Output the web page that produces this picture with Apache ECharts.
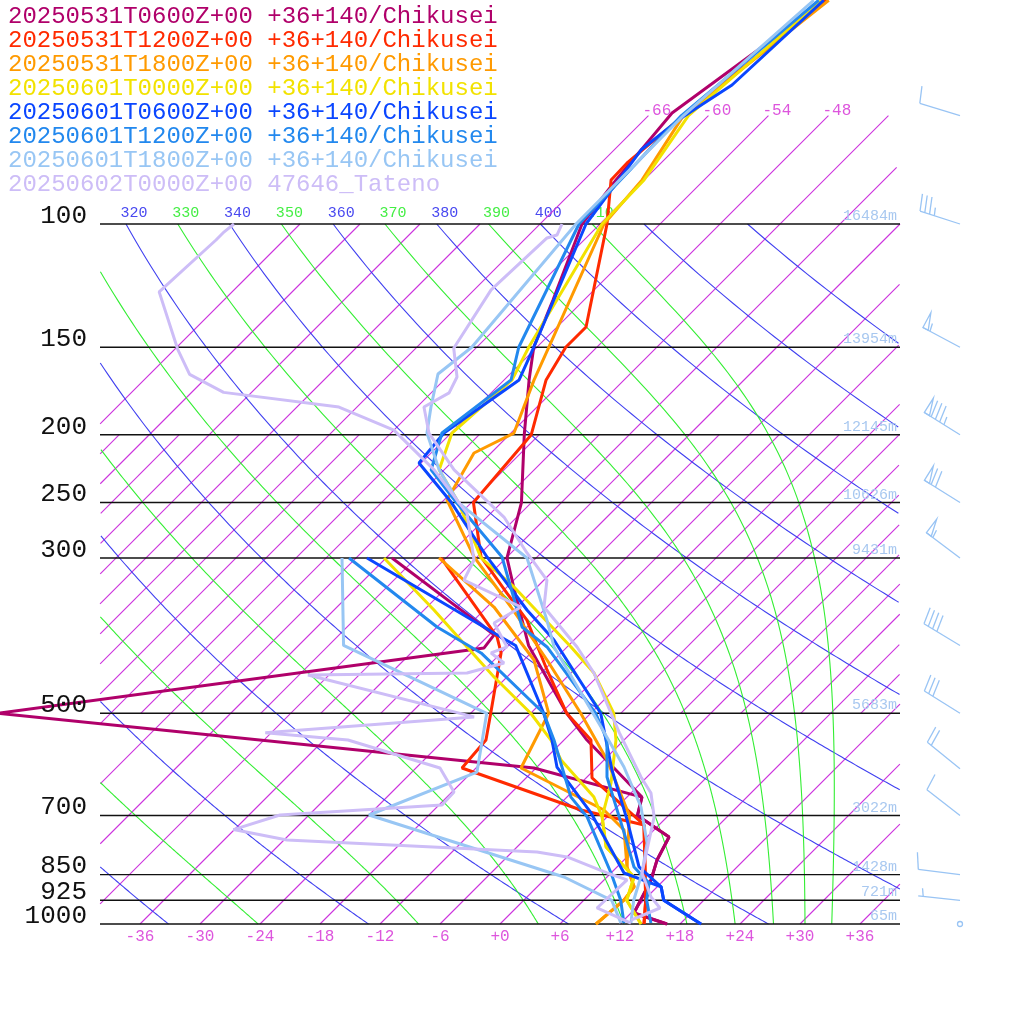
<!DOCTYPE html>
<html><head><meta charset="utf-8">
<script src="https://cdn.jsdelivr.net/npm/echarts@6/dist/echarts.min.js"></script>
<style>html,body{margin:0;padding:0;background:#fff}#c{width:1024px;height:1024px}</style>
</head><body><div id="c"></div>
<script>
// ---------- data: [pressure hPa, temperature °C] ----------
const legendLabels = [
 "20250531T0600Z+00 +36+140/Chikusei","20250531T1200Z+00 +36+140/Chikusei",
 "20250531T1800Z+00 +36+140/Chikusei","20250601T0000Z+00 +36+140/Chikusei",
 "20250601T0600Z+00 +36+140/Chikusei","20250601T1200Z+00 +36+140/Chikusei",
 "20250601T1800Z+00 +36+140/Chikusei","20250602T0000Z+00 47646_Tateno"];
const seriesColors = ['#b0006a','#ff2a00','#ff9a00','#f2e200','#0a46ff','#2288ee','#98c6f4','#cdbdf7'];

const s1T=[[47.9,-59.8],[69.4,-63.9],[86.5,-62.8],[100,-61.8],[128.4,-57.1],[150,-54.3],[167,-51.5],[200,-46.5],[250,-40.0],[300,-35.9],[333,-32.0],[400,-25.0],[500,-14.4],[546,-9.7],[658.7,1.5],[700,2.9],[751,8.2],[810,9.3],[865,10.7],[964.5,12.3],[1000,16.7]];
const s1D=[[300,-47.4],[386.4,-29.5],[403.3,-29.2],[500,-71.2],[598.6,-12.2],[658.7,1.5],[700,2.9],[751,8.2],[810,9.3],[865,10.7],[964.5,12.3],[1000,16.7]];
const s2T=[[47.9,-59.7],[70,-62.5],[81.8,-63.4],[86.5,-63.3],[100,-59.3],[140.3,-51.1],[150,-51.1],[167,-49.8],[200,-45.8],[250,-44.8],[299,-38.6],[336.7,-32.4],[368,-27.7],[433.6,-20.7],[500,-14.4],[546,-9.3],[618.6,-5.4],[722,4.5],[925,12.2],[1000,14.4]];
const s2D=[[300,-42.5],[389,-29.0],[410,-27.0],[500,-22.0],[546,-19.8],[598.6,-19.4],[687.3,-3.3],[722,4.5],[925,12.2],[1000,14.4]];
const s3T=[[47.9,-59.5],[70,-62.5],[86.5,-60.2],[100,-59.6],[150,-52.8],[167,-51.0],[198.9,-47.7],[212.4,-49.7],[247.9,-47.7],[299,-39.3],[352.5,-30.6],[419.6,-21.7],[500,-13.0],[583,-5.7],[700,2.1],[829,7.0],[885,9.7],[925,10.0],[1000,9.6]];
const s3D=[[300,-42.7],[352.5,-32.3],[419.6,-23.0],[500,-16.2],[598.6,-13.5],[687.3,-1.0],[734,3.0],[829,7.0],[885,9.7],[925,10.0],[1000,9.6]];
const s4T=[[47.9,-60.2],[70,-62.0],[86.5,-60.0],[100,-59.8],[150,-54.8],[167,-53.2],[198.9,-53.9],[224.5,-51.5],[250,-46.3],[300,-38.5],[330,-32.3],[402,-20.6],[438,-15.7],[500,-9.7],[546,-6.8],[628.9,-3.0],[703,-0.5],[776,2.9],[856.7,8.7],[925,10.3],[1000,14.1]];
const s4D=[[300,-48.2],[356,-38.0],[402,-31.0],[443.7,-25.3],[500,-18.0],[546,-13.3],[583,-10.3],[658.7,-3.3],[703,-0.5],[776,2.9],[856.7,8.7],[925,10.3],[1000,14.1]];
const s5T=[[47.9,-60.0],[63.3,-60.7],[70.6,-62.5],[78.4,-63.3],[100,-61.4],[150,-54.3],[167,-52.5],[198.9,-54.7],[219.5,-54.2],[250,-47.0],[299,-38.0],[356,-28.7],[392.9,-23.0],[500,-11.0],[546,-7.8],[602.6,-4.2],[710,2.3],[829,8.2],[885,12.4],[925,14.0],[1000,20.1]];
const s5D=[[300,-49.9],[383.9,-29.7],[400,-26.3],[500,-16.7],[546,-13.2],[596.7,-10.0],[694,-2.0],[845.5,7.3],[885,12.4],[925,14.0],[1000,20.1]];
const s6T=[[47.9,-60.5],[70,-62.7],[100,-62.1],[150,-55.8],[167,-53.3],[198.9,-54.9],[224.5,-52.3],[250,-46.5],[299,-36.5],[376.4,-27.5],[402,-23.0],[500,-11.5],[546,-7.7],[616.6,-4.0],[741,3.3],[829,7.7],[873.7,10.8],[925,12.3],[997,15.0]];
const s6D=[[300,-51.7],[376.4,-36.0],[410,-29.0],[500,-16.7],[546,-13.0],[658.7,-5.6],[703,-2.0],[845.5,6.0],[925,9.7],[997,12.3]];
const s7T=[[47.9,-61.0],[70,-62.5],[100,-62.4],[150,-60.5],[163.8,-61.2],[182.6,-58.6],[198.9,-56.4],[224.5,-51.5],[250,-46.3],[300,-33.9],[368,-25.7],[402,-22.3],[523,-9.6],[596.7,-3.3],[680.6,2.4],[766,6.6],[845.5,9.1],[925,11.0],[997,13.0]];
const s7D=[[300,-52.4],[400,-43.5],[500,-22.4],[606.6,-17.5],[698.7,-24.0],[856.7,1.7],[925,8.8],[997,12.0]];
const s8T=[[100,-63.8],[103.7,-63.2],[104.7,-63.9],[124.2,-64.3],[150.5,-62.2],[165.4,-59.0],[174.3,-58.2],[182.6,-59.3],[198.9,-56.2],[224.5,-50.0],[262.2,-40.3],[295.1,-34.4],[322.6,-29.7],[352.5,-27.3],[402,-20.0],[438,-15.7],[533,-7.2],[616.6,-0.6],[650,2.0],[703,4.7],[845.5,9.1],[915,12.4],[948.7,14.4],[987,12.7]];
const s8D=[[100,-96.6],[102.6,-96.8],[105.4,-96.8],[125,-97.3],[151,-89.7],[164,-86.0],[174,-80.8],[182.6,-67.8],[197,-60.0],[224.5,-52.0],[258.8,-44.4],[302,-39.0],[322.6,-38.0],[352.5,-29.6],[371.5,-30.7],[402,-27.0],[410,-28.0],[423.7,-25.7],[438,-28.4],[440.9,-44.1],[506,-23.3],[533,-42.6],[546,-33.6],[598.6,-21.6],[647.7,-17.8],[676,-17.7],[698.7,-32.9],[733,-36.1],[758.6,-29.7],[789,-3.5],[802,0.0],[845.5,5.6],[865,8.3],[948.7,8.1],[997,13.0]];
const profiles=[[s1T,s1D],[s2T,s2D],[s3T,s3D],[s4T,s4D],[s5T,s5D],[s6T,s6D],[s7T,s7D],[s8T,s8D]];

const pressureLevels=[100,150,200,250,300,500,700,850,925,1000];
const heightLabels=['16484m','13954m','12145m','10626m','9431m','5683m','3022m','1428m','721m','65m'];
const tempTicks=[-36,-30,-24,-18,-12,-6,0,6,12,18,24,30,36];
// wind: [pressure, direction deg, speed kt]
const winds=[[70,287,10],[100,288,35],[150,298,55],[200,302,85],[250,302,70],[300,307,55],[400,301,40],[500,302,30],[600,309,20],[700,308,10],[850,277,10],[925,276,5],[1000,0,0]];

// ---------- helpers ----------
const K=70; // skew factor
const sx=(p,T)=>T+K*Math.log10(1000/p);
const XY=(p,T)=>[sx(p,T),Math.log10(p)];
const XMIN=-40,XMAX=40;
function clipPolys(pts,straight){
  const out=[];let cur=[];
  for(const q of pts){ if(q[0]>=XMIN&&q[0]<=XMAX){cur.push(q);} else {if(cur.length>1)out.push(cur);cur=[];} }
  if(cur.length>1)out.push(cur);
  return out.map(c=> straight?[c[0],c[c.length-1]]:c.filter((q,i)=>i%3===0||i===c.length-1));
}
function curve(fn,pTop,pBot){const pts=[];for(let p=pTop;p<=pBot+0.01;p+=1){pts.push(XY(p,fn(p)));}return pts;}

const isoA=[],isoLabels=[];
for(let T=-90;T<=39;T+=3){
  if(T%6===0){
    const top=(T>=-66?70:100);
    isoA.push(...clipPolys(curve(()=>T,top,1000),true));
    if(T>=-66&&sx(70,T)<=XMAX-6) isoLabels.push([T,sx(70,T)]);
  } else {
    isoA.push(...clipPolys(curve(()=>T,200,500),true));
  }
}
const dryA=[];
for(let th=200;th<=440;th+=20){dryA.push(...clipPolys(curve(p=>th*Math.pow(p/1000,0.2857)-273.15,100,1000)));}
function moistPts(th){
  let T=th*Math.pow(0.1,0.2857);const pts=[];
  for(let p=100;p<=1000;p+=1){
    pts.push(XY(p,T-273.15));
    const Tc=T-273.15;const es=6.112*Math.exp(17.67*Tc/(Tc+243.5));const rs=0.622*es/Math.max(p-es,1);
    const dTdp=(287*T+2.5e6*rs)/(p*(1004+2.5e6*2.5e6*rs*0.622/(287*T*T)));
    T+=dTdp*1;
  }
  return pts;
}
const moistA=[];
for(let th=210;th<=410;th+=20){moistA.push(...clipPolys(moistPts(th)));}
const isoLines=pressureLevels.map(p=>[[XMIN,Math.log10(p)],[XMAX,Math.log10(p)]]);

const bg=[];
isoA.forEach(l=>bg.push({pts:l,c:'#cc33dd',w:1.1}));
dryA.forEach(l=>bg.push({pts:l,c:'#4040f0',w:1.1}));
moistA.forEach(l=>bg.push({pts:l,c:'#33ee33',w:1.1}));
isoLines.forEach(l=>bg.push({pts:l,c:'#111111',w:1.4}));
const series=[{type:'custom',silent:true,z:1,data:bg.map((_,i)=>i),renderItem:(params,api)=>{
  const b=bg[params.dataIndex];
  return {type:'polyline',shape:{points:b.pts.map(q=>api.coord(q))},style:{stroke:b.c,lineWidth:b.w,fill:null}};
}}];
profiles.forEach((pr,i)=>{
  pr.forEach(arr=>{
    series.push({type:'line',data:arr.map(d=>XY(d[0],d[1])),showSymbol:false,symbol:'none',silent:true,animation:false,
      lineStyle:{color:seriesColors[i],width:3},itemStyle:{color:seriesColors[i]},z:3});
  });
});
const BARB_X=(960-500)/10;
series.push({type:'custom',silent:true,z:4,data:winds,renderItem:(params,api)=>{
  const p=api.value(0),dir=api.value(1),spd=api.value(2);
  const c=api.coord([BARB_X,Math.log10(p)]);
  const st={stroke:'#99c4f4',lineWidth:1.3,fill:null};
  if(spd<2.5) return {type:'circle',shape:{cx:c[0],cy:c[1],r:2.5},style:st};
  const a=(dir-270)*Math.PI/180;const ux=-Math.cos(a),uy=-Math.sin(a);
  const L=42;const tx=c[0]+ux*L,ty=c[1]+uy*L;
  const px=Math.sin(a),py=-Math.cos(a);
  const ch=[{type:'line',shape:{x1:c[0],y1:c[1],x2:tx,y2:ty},style:st}];
  let rem=Math.round(spd/5)*5;let d=0;const LL=17;
  while(rem>=50){const bx=tx-ux*d,by=ty-uy*d;
    ch.push({type:'polygon',shape:{points:[[bx,by],[bx+px*LL,by+py*LL],[bx-ux*6,by-uy*6]]},style:{stroke:'#99c4f4',lineWidth:1.3,fill:'none'}});d+=7;rem-=50;}
  if(d>0)d+=1;
  while(rem>=10){const bx=tx-ux*d,by=ty-uy*d;ch.push({type:'line',shape:{x1:bx,y1:by,x2:bx+px*LL+ux*3,y2:by+py*LL+uy*3},style:st});d+=5;rem-=10;}
  if(rem>=5){if(d===0)d=5;const bx=tx-ux*d,by=ty-uy*d;ch.push({type:'line',shape:{x1:bx,y1:by,x2:bx+px*8+ux*1.5,y2:by+py*8+uy*1.5},style:st});}
  return {type:'group',children:ch};
}});

const chart=echarts.init(document.getElementById('c'),null,{renderer:'canvas'});
chart.setOption({animation:false,
  grid:{left:0,right:0,top:0,bottom:0},
  xAxis:{type:'value',min:-50,max:52.4,show:false},
  yAxis:{type:'value',inverse:true,min:3-924/700,max:3+100/700,show:false},
  series});

const px=(s,v)=>chart.convertToPixel({gridIndex:0},[s,v]);
const g=[];
const MONO='"Liberation Mono"';
legendLabels.forEach((t,i)=>g.push({type:'text',z:100,style:{text:t,x:8,y:17+24*i,fill:seriesColors[i],font:'24px '+MONO,textVerticalAlign:'middle'}}));
pressureLevels.forEach((p,i)=>{const q=px(XMIN,Math.log10(p));
  g.push({type:'text',z:100,style:{text:String(p),x:87,y:q[1]-8,fill:'#111',font:'26px '+MONO,textAlign:'right',textVerticalAlign:'middle'}});
  g.push({type:'text',z:100,style:{text:heightLabels[i],x:897,y:q[1]-8,fill:'#a8c8f0',font:'15px '+MONO,textAlign:'right',textVerticalAlign:'middle'}});
});
tempTicks.forEach(T=>{const q=px(T,3);g.push({type:'text',z:100,style:{text:(T<0?'-':'+')+Math.abs(T),x:q[0],y:937,fill:'#dd55dd',font:'16px '+MONO,textAlign:'center',textVerticalAlign:'middle'}});});
isoLabels.forEach(([T,s])=>{const q=px(s,Math.log10(70));g.push({type:'text',z:100,style:{text:'-'+Math.abs(T),x:q[0]-6,y:q[1]-5,fill:'#dd55dd',font:'16px '+MONO,textAlign:'left',textVerticalAlign:'middle'}});});
for(let th=320;th<=410;th+=10){
  let s;
  if(th%20===0){s=sx(100,th*Math.pow(0.1,0.2857)-273.15);}else{s=moistPts(th)[0][0];}
  const q=px(s,2);
  g.push({type:'text',z:0,style:{text:String(th),x:q[0]+8,y:q[1]-11,fill:(th%20===0)?'#4848f0':'#44ee44',font:'15px '+MONO,textAlign:'center',textVerticalAlign:'middle'}});
}
chart.setOption({graphic:{elements:g}});
</script></body></html>
